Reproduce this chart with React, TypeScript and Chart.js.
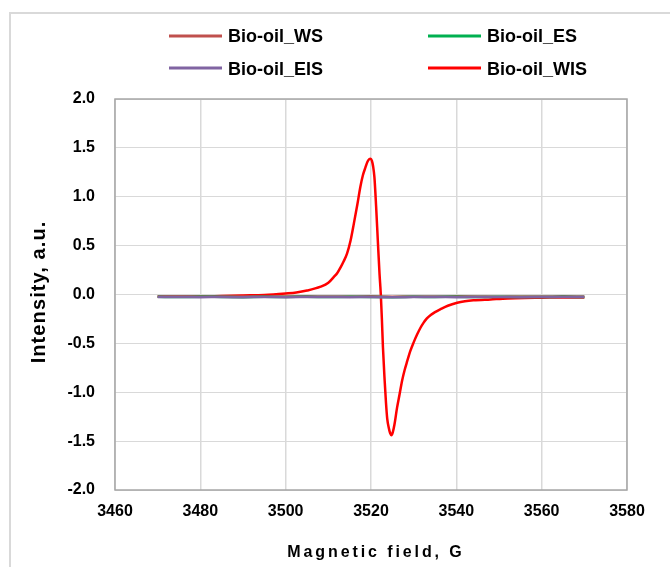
import { useEffect, useRef } from "react";
import { Chart, registerables } from "chart.js";

Chart.register(...registerables);

const FONT = "'Liberation Sans', Arial, sans-serif";

const seriesNames = ["Bio-oil_WS", "Bio-oil_ES", "Bio-oil_EIS", "Bio-oil_WIS"];
const seriesColors = ["#c0504d", "#00b050", "#8064a2", "#ff0000"];

const flatField = [3470, 3475, 3480, 3485, 3490, 3495, 3500, 3505, 3510, 3515, 3520, 3525, 3530, 3535, 3540, 3545, 3550, 3555, 3560, 3565, 3570];
const wsIntensity = [-0.02, -0.022, -0.019, -0.021, -0.02, -0.023, -0.02, -0.018, -0.021, -0.02, -0.019, -0.022, -0.02, -0.021, -0.019, -0.02, -0.022, -0.02, -0.021, -0.019, -0.02];
const esIntensity = [-0.024, -0.026, -0.023, -0.025, -0.027, -0.024, -0.025, -0.023, -0.026, -0.024, -0.025, -0.027, -0.024, -0.025, -0.023, -0.026, -0.024, -0.025, -0.026, -0.024, -0.025];
const eisIntensity = [-0.026, -0.025, -0.027, -0.026, -0.028, -0.025, -0.027, -0.026, -0.025, -0.027, -0.026, -0.028, -0.026, -0.025, -0.027, -0.026, -0.025, -0.027, -0.026, -0.025, -0.026];

const wisField = [3470, 3475, 3480, 3485, 3490, 3495, 3500, 3502.5, 3505, 3508.2, 3510, 3511.3, 3512.1, 3512.9, 3513.6, 3514.4, 3515.2, 3516, 3516.8, 3517.5, 3518.1, 3518.7, 3519.2, 3519.6, 3519.9, 3520.2, 3520.5, 3520.8, 3521.2, 3521.6, 3522.0, 3522.3, 3522.55, 3522.8, 3523.2, 3523.5, 3523.8, 3524.2, 3524.5, 3524.8, 3525.1, 3525.5, 3526.1, 3526.7, 3527.3, 3527.9, 3528.5, 3529.2, 3530, 3530.8, 3531.6, 3532.3, 3533.1, 3534, 3535, 3536.3, 3538, 3540.2, 3542, 3544, 3548, 3552, 3556, 3560, 3565, 3570];
const wisIntensity = [-0.02, -0.02, -0.02, -0.015, -0.01, -0.005, 0.01, 0.02, 0.04, 0.08, 0.12, 0.18, 0.22, 0.28, 0.34, 0.42, 0.55, 0.73, 0.92, 1.1, 1.22, 1.3, 1.36, 1.385, 1.39, 1.37, 1.31, 1.2, 0.9, 0.55, 0.21, 0.0, -0.25, -0.54, -0.88, -1.1, -1.27, -1.37, -1.42, -1.44, -1.41, -1.33, -1.16, -1.02, -0.88, -0.77, -0.68, -0.58, -0.49, -0.41, -0.34, -0.29, -0.245, -0.21, -0.18, -0.15, -0.115, -0.085, -0.07, -0.06, -0.05, -0.04, -0.035, -0.033, -0.03, -0.03];

const xTickValues = [3460, 3480, 3500, 3520, 3540, 3560, 3580];
const yTickValues = [-2, -1.5, -1, -0.5, 0, 0.5, 1, 1.5, 2];
const xTitle = "Magnetic field, G";
const yTitle = "Intensity, a.u.";

const toPoints = (xs: number[], ys: number[]) => xs.map((x, i) => ({ x, y: ys[i] }));

const decorPlugin = {
  id: "decor",
  beforeDraw(chart: any) {
    const ctx = chart.ctx;
    ctx.save();
    ctx.fillStyle = "#ffffff";
    ctx.fillRect(0, 0, chart.width, chart.height);
    ctx.strokeStyle = "#d9d9d9";
    ctx.lineWidth = 2;
    ctx.beginPath();
    ctx.moveTo(10, chart.height + 5);
    ctx.lineTo(10, 13);
    ctx.lineTo(chart.width + 5, 13);
    ctx.stroke();
    ctx.restore();
  },
  beforeDatasetsDraw(chart: any) {
    const { ctx, chartArea } = chart;
    ctx.save();
    ctx.strokeStyle = "#a6a6a6";
    ctx.lineWidth = 1.5;
    ctx.strokeRect(chartArea.left, chartArea.top, chartArea.right - chartArea.left, chartArea.bottom - chartArea.top);
    ctx.restore();
  },
  afterDraw(chart: any) {
    const ctx = chart.ctx;
    ctx.save();
    // legend
    const colX = [169, 428];
    const rowBase = [42, 74.5];
    const rowLine = [36, 68];
    ctx.font = `bold 18px ${FONT}`;
    ctx.textAlign = "left";
    ctx.textBaseline = "alphabetic";
    seriesNames.forEach((name, i) => {
      const c = i % 2;
      const r = Math.floor(i / 2);
      ctx.strokeStyle = seriesColors[i];
      ctx.lineWidth = 3;
      ctx.beginPath();
      ctx.moveTo(colX[c], rowLine[r]);
      ctx.lineTo(colX[c] + 53, rowLine[r]);
      ctx.stroke();
      ctx.fillStyle = "#000";
      ctx.fillText(name, colX[c] + 59, rowBase[r]);
    });
    // x title
    ctx.font = `bold 16px ${FONT}`;
    (ctx as any).letterSpacing = "2.9px";
    let w = ctx.measureText(xTitle).width - 2.9;
    ctx.fillText(xTitle, 374.5 - w / 2, 556.5);
    // y title
    ctx.font = `bold 20px ${FONT}`;
    (ctx as any).letterSpacing = "1.1px";
    w = ctx.measureText(yTitle).width - 1.1;
    ctx.translate(45, 292.5);
    ctx.rotate(-Math.PI / 2);
    ctx.fillText(yTitle, -w / 2, 0);
    ctx.restore();
  },
};

export default function App() {
  const ref = useRef<HTMLCanvasElement | null>(null);
  useEffect(() => {
    if (!ref.current) return;
    const mk = (i: number, xs: number[], ys: number[], order: number) => ({
      label: seriesNames[i],
      data: toPoints(xs, ys),
      borderColor: seriesColors[i],
      backgroundColor: seriesColors[i],
      borderWidth: 2.5,
      pointRadius: 0,
      fill: false,
      order,
      cubicInterpolationMode: "monotone" as const,
    });
    const chart = new Chart(ref.current, {
      type: "line",
      data: {
        datasets: [
          mk(0, flatField, wsIntensity, 2),
          mk(1, flatField, esIntensity, 1),
          mk(2, flatField, eisIntensity, 0),
          mk(3, wisField, wisIntensity, 3),
        ],
      },
      options: {
        responsive: false,
        animation: false,
        layout: { padding: { left: 0, right: 43, top: 99, bottom: 0 } },
        plugins: { legend: { display: false }, tooltip: { enabled: false } },
        scales: {
          x: {
            type: "linear",
            min: xTickValues[0],
            max: xTickValues[xTickValues.length - 1],
            afterBuildTicks: (s: any) => {
              s.ticks = xTickValues.map((v) => ({ value: v }));
            },
            afterFit: (s: any) => {
              s.height = 77;
            },
            grid: { color: "#d9d9d9", lineWidth: 1.5, drawTicks: false },
            border: { display: false },
            ticks: {
              padding: 12,
              color: "#000",
              font: { family: FONT, size: 16, weight: "bold" },
              maxRotation: 0,
              callback: (v: any) => String(v),
            },
          },
          y: {
            type: "linear",
            min: yTickValues[0],
            max: yTickValues[yTickValues.length - 1],
            afterBuildTicks: (s: any) => {
              s.ticks = yTickValues.map((v) => ({ value: v }));
            },
            afterFit: (s: any) => {
              s.width = 115;
            },
            grid: { color: "#d9d9d9", lineWidth: 1, drawTicks: false },
            border: { display: false },
            ticks: {
              padding: 20,
              color: "#000",
              font: { family: FONT, size: 16, weight: "bold" },
              callback: (v: any) => Number(v).toFixed(1),
            },
          },
        },
      },
      plugins: [decorPlugin],
    });
    return () => chart.destroy();
  }, []);
  return (
    <div style={{ position: "fixed", left: 0, top: 0, width: 670, height: 567, overflow: "hidden", background: "#fff" }}>
      <canvas ref={ref} width={670} height={567} style={{ display: "block" }} />
    </div>
  );
}
